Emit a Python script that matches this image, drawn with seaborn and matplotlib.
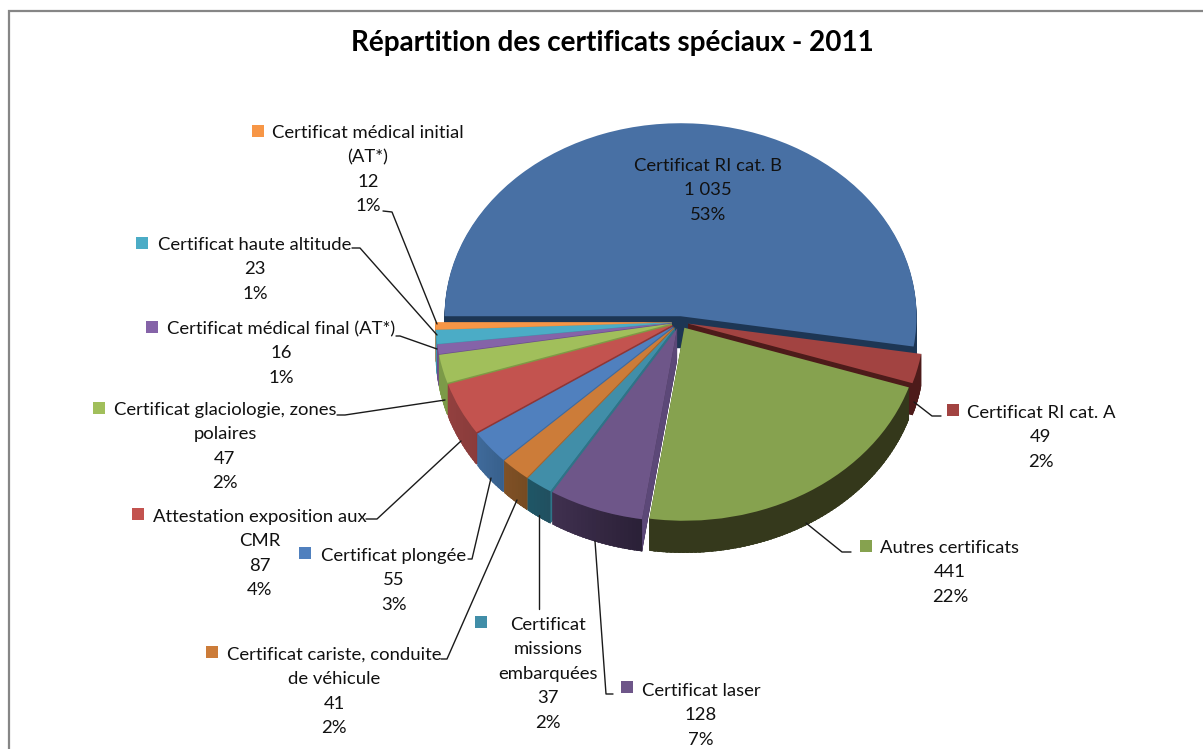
import matplotlib
matplotlib.use("Agg")
import matplotlib.pyplot as plt
from matplotlib.patches import Rectangle
import numpy as np
import seaborn as sns

sns.set_theme(style="white")
plt.rcParams["font.family"] = ["Lato", "DejaVu Sans"]

# Number of special certificates issued in 2011, clockwise from the left edge of the pie
categories = [
    "Certificat RI cat. B", "Certificat RI cat. A", "Autres certificats",
    "Certificat laser", "Certificat missions embarquées",
    "Certificat cariste, conduite de véhicule", "Certificat plongée",
    "Attestation exposition aux CMR", "Certificat glaciologie, zones polaires",
    "Certificat médical final (AT*)", "Certificat haute altitude",
    "Certificat médical initial (AT*)",
]
counts = [1035, 49, 441, 128, 37, 41, 55, 87, 47, 16, 23, 12]
count_labels = ["1 035", "49", "441", "128", "37", "41", "55", "87", "47", "16", "23", "12"]
shares = ["53%", "2%", "22%", "7%", "2%", "2%", "3%", "4%", "2%", "1%", "1%", "1%"]

top_colors = sns.color_palette([
    "#4870A4", "#A24341", "#86A24F", "#6E5689", "#418EA8", "#CC7C39",
    "#5080BE", "#C3534F", "#A1BF5B", "#8563A8", "#4BACC6", "#F79646",
])
# Side-wall tones at the two ends of each slice's arc (lower angle, higher angle)
wall_low = sns.color_palette([
    "#1D3654", "#4D1B1A", "#35391C", "#40304F", "#1F5666", "#7F5126",
    "#3F6A9A", "#93403F", "#7C9A48", "#6A4E8A", "#3E94AB", "#E08A3E",
])
wall_high = sns.color_palette([
    "#1D3654", "#4D1B1A", "#34381B", "#2A2037", "#215060", "#774B22",
    "#38608C", "#8A3C3B", "#7C9A48", "#6A4E8A", "#3E94AB", "#E08A3E",
])
face_colors = sns.color_palette([
    "#1D3654", "#4D1B1A", "#35391C", "#5C4878", "#2F7488", "#A8652D",
    "#3F6A9E", "#8F3535", "#7F9A45", "#6A4E8A", "#3E94AB", "#E08A3E",
])
# Back-to-front painting order of the slices
paint_rank = [0, 1, 11, 10, 9, 8, 7, 6, 5, 4, 3, 2]

W, H = 1203, 749
CX, CY, RX, RY = 680, 322, 236, 193
DEPTH = 32
LIM = 1.3
offsets = [0.03] + [0.035] * (len(counts) - 1)

fig = plt.figure(figsize=(W / 100, H / 100), dpi=100, facecolor="white")
canvas = fig.add_axes([0, 0, 1, 1], zorder=3)
canvas.set_xlim(0, W)
canvas.set_ylim(H, 0)
canvas.axis("off")

pie_ax = fig.add_axes([
    (CX - LIM * RX) / W, 1 - (CY + LIM * RY) / H,
    2 * LIM * RX / W, 2 * LIM * RY / H,
], zorder=1)

pie_args = dict(startangle=180, counterclock=False, explode=offsets, radius=1)
depth = DEPTH / RY

# The solid body is a stack of darker pies, drawn from the bottom upwards
for step in range(DEPTH, 0, -1):
    layer, _ = pie_ax.pie(counts, colors=wall_low, center=(0, -step / RY),
                          wedgeprops=dict(linewidth=0), **pie_args)
    for wedge, rank in zip(layer, paint_rank):
        wedge.set_zorder(rank * 4 + 1)

top_wedges, _ = pie_ax.pie(counts, colors=top_colors,
                           wedgeprops=dict(linewidth=0), **pie_args)

for idx, wedge in enumerate(top_wedges):
    rank = paint_rank[idx]
    wedge.set_zorder(rank * 4 + 4)
    x0, y0 = wedge.center

    # Shaded strips along the outer wall
    angles = np.radians(np.arange(wedge.theta1, wedge.theta2 + 1.0, 1.0))
    c_low, c_high = np.array(wall_low[idx]), np.array(wall_high[idx])
    for k in range(len(angles) - 1):
        a0, a1 = angles[k], min(angles[k + 1] + 0.01, np.radians(wedge.theta2))
        if np.sin((a0 + a1) / 2) >= 0:
            continue
        mix = k / max(len(angles) - 2, 1)
        xs = [x0 + np.cos(a0), x0 + np.cos(a1), x0 + np.cos(a1), x0 + np.cos(a0)]
        ys = [y0 + np.sin(a0), y0 + np.sin(a1), y0 + np.sin(a1) - depth, y0 + np.sin(a0) - depth]
        pie_ax.fill(xs, ys, color=tuple(c_low * (1 - mix) + c_high * mix),
                    linewidth=0.3, zorder=rank * 4 + 2)

    # Radial cut faces that turn towards the viewer
    for theta, visible in ((wedge.theta1, np.cos(np.radians(wedge.theta1)) > 0),
                           (wedge.theta2, np.cos(np.radians(wedge.theta2)) < 0)):
        if not visible:
            continue
        ex = x0 + np.cos(np.radians(theta))
        ey = y0 + np.sin(np.radians(theta))
        pie_ax.fill([x0, ex, ex, x0], [y0, ey, ey - depth, y0 - depth],
                    color=face_colors[idx], linewidth=0, zorder=rank * 4 + 3)

pie_ax.set_aspect("auto")
pie_ax.set_xlim(-LIM, LIM)
pie_ax.set_ylim(-LIM, LIM)
pie_ax.patch.set_visible(False)

# Outer chart frame: only the top and left sides fall inside the image
canvas.plot([8.5, 8.5, W], [H, 10.5, 10.5], color="#868686", lw=1.6, solid_joinstyle="miter")

canvas.text(612, 43.5, "Répartition des certificats spéciaux - 2011",
            ha="center", va="center", fontsize=20.1, fontweight="bold", color="black")

# Wrapped name lines of each data label
label_names = [
    ["Certificat RI cat. B"], ["Certificat RI cat. A"], ["Autres certificats"],
    ["Certificat laser"], ["Certificat", "missions", "embarquées"],
    ["Certificat cariste, conduite", "de véhicule"], ["Certificat plongée"],
    ["Attestation exposition aux", "CMR"], ["Certificat glaciologie, zones", "polaires"],
    ["Certificat médical final (AT*)"], ["Certificat haute altitude"],
    ["Certificat médical initial", "(AT*)"],
]
label_x = [708, 1041, 950, 701, 548, 334, 394, 259.5, 225, 281, 255, 368]
label_y = [166, 413, 548, 691, 625, 655, 556, 517, 410, 329, 245, 133]
swatch_x = [616, 947, 860, 621, 475, 206, 299, 132, 93, 146, 136, 252]
swatch_y = [157, 404, 540, 681, 616, 646, 547, 508, 402, 321, 237, 125]
LINE_PITCH = 24.4

for i, names in enumerate(label_names):
    lines = names + [count_labels[i], shares[i]]
    for j, line in enumerate(lines):
        canvas.text(label_x[i], label_y[i] + j * LINE_PITCH, line, ha="center", va="center",
                    fontsize=13.3, color="#111111")
    canvas.add_patch(Rectangle((swatch_x[i], swatch_y[i]), 12, 12,
                               facecolor=top_colors[i], edgecolor="none"))

# Leader lines from the labels to their slices
leaders = [
    [(914, 402), (932, 416), (941, 416)],
    [(806, 523), (842, 552), (851, 552)],
    [(595, 541), (606, 694), (613, 694)],
    [(539, 515), (539, 609)],
    [(517, 500), (447, 659), (441, 659)],
    [(491, 478), (472, 559), (468, 559)],
    [(461, 441), (377, 519), (366, 519)],
    [(445, 400), (345, 415), (337, 415)],
    [(437, 349), (400, 336), (396, 336)],
    [(437, 335), (360, 248), (352, 248)],
    [(437, 324), (392, 212), (383, 211)],
]
for path in leaders:
    xs, ys = zip(*path)
    canvas.plot(xs, ys, color="#1a1a1a", lw=1.0)

fig.savefig("out.png", dpi=100, facecolor="white")
